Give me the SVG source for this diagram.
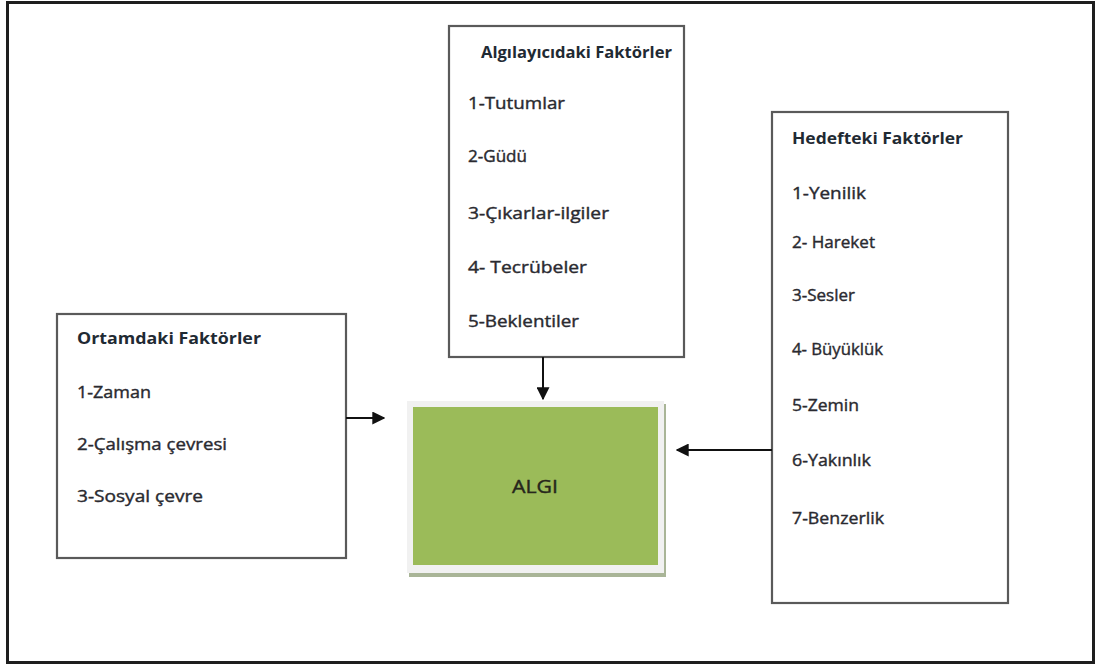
<svg xmlns="http://www.w3.org/2000/svg" width="1097" height="666" viewBox="0 0 1097 666">
  <style>
    .frame { fill: #ffffff; stroke: #1e1e1e; stroke-width: 3; }
    .box { fill: #ffffff; stroke: #5a5a5a; stroke-width: 2.2; }
    .head { font-family: "Open Sans", "Liberation Sans", sans-serif; font-size: 16.5px; font-weight: 700; fill: #1f2a33; }
    .item { font-family: "Open Sans", "Liberation Sans", sans-serif; font-size: 17px; font-weight: 400; fill: #2a2a30; stroke: #2a2a30; stroke-width: 0.4; }
    .link { fill: none; stroke: #111111; stroke-width: 2; }
  </style>
  <defs>
    <marker id="arrowBig" viewBox="0 0 10 10" refX="9" refY="5" markerWidth="13" markerHeight="13" markerUnits="userSpaceOnUse" orient="auto">
      <path d="M0,0 L10,5 L0,10 Z" fill="#111111"/>
    </marker>
  </defs>

  <!-- page frame -->
  <rect class="frame" x="7.5" y="2.5" width="1086" height="660"/>

  <!-- perceiver factors -->
  <g id="algilayici">
    <rect class="box" x="449" y="26" width="235" height="331"/>
    <text class="head" x="481" y="58" textLength="191" lengthAdjust="spacingAndGlyphs">Algılayıcıdaki Faktörler</text>
    <text class="item" x="468" y="109" textLength="97" lengthAdjust="spacingAndGlyphs">1-Tutumlar</text>
    <text class="item" x="468" y="162" textLength="59" lengthAdjust="spacingAndGlyphs">2-Güdü</text>
    <text class="item" x="468" y="219" textLength="141" lengthAdjust="spacingAndGlyphs">3-Çıkarlar-ilgiler</text>
    <text class="item" x="468" y="273" textLength="119" lengthAdjust="spacingAndGlyphs">4- Tecrübeler</text>
    <text class="item" x="468" y="327" textLength="111" lengthAdjust="spacingAndGlyphs">5-Beklentiler</text>
  </g>

  <!-- target factors -->
  <g id="hedef">
    <rect class="box" x="772" y="112" width="236" height="491"/>
    <text class="head" x="792" y="144" textLength="171" lengthAdjust="spacingAndGlyphs">Hedefteki Faktörler</text>
    <text class="item" x="792" y="199" textLength="74" lengthAdjust="spacingAndGlyphs">1-Yenilik</text>
    <text class="item" x="792" y="248" textLength="83" lengthAdjust="spacingAndGlyphs">2- Hareket</text>
    <text class="item" x="792" y="301" textLength="63" lengthAdjust="spacingAndGlyphs">3-Sesler</text>
    <text class="item" x="792" y="355" textLength="91" lengthAdjust="spacingAndGlyphs">4- Büyüklük</text>
    <text class="item" x="792" y="411" textLength="67" lengthAdjust="spacingAndGlyphs">5-Zemin</text>
    <text class="item" x="792" y="466" textLength="79" lengthAdjust="spacingAndGlyphs">6-Yakınlık</text>
    <text class="item" x="792" y="524" textLength="92" lengthAdjust="spacingAndGlyphs">7-Benzerlik</text>
  </g>

  <!-- environment factors -->
  <g id="ortam">
    <rect class="box" x="57" y="314" width="289" height="244"/>
    <text class="head" x="77" y="344" textLength="184" lengthAdjust="spacingAndGlyphs">Ortamdaki Faktörler</text>
    <text class="item" x="77" y="398" textLength="74" lengthAdjust="spacingAndGlyphs">1-Zaman</text>
    <text class="item" x="77" y="450" textLength="150" lengthAdjust="spacingAndGlyphs">2-Çalışma çevresi</text>
    <text class="item" x="77" y="502" textLength="126" lengthAdjust="spacingAndGlyphs">3-Sosyal çevre</text>
  </g>

  <!-- perception (central node) -->
  <g id="algi">
    <rect x="409" y="404" width="257" height="173" fill="#a9b597"/>
    <rect x="407" y="401" width="257" height="172" fill="#f1f1f1"/>
    <rect x="413" y="407" width="245" height="158" fill="#9bbb59"/>
    <text x="535" y="493" text-anchor="middle" font-family="Open Sans, Liberation Sans, sans-serif" font-size="18" fill="#26261c" stroke="#26261c" stroke-width="0.4" textLength="46" lengthAdjust="spacingAndGlyphs">ALGI</text>
  </g>

  <!-- connectors -->
  <g id="connectors">
    <line class="link" x1="543" y1="357" x2="543" y2="399" marker-end="url(#arrowBig)"/>
    <line class="link" x1="346" y1="418" x2="384" y2="418" marker-end="url(#arrowBig)"/>
    <line class="link" x1="772" y1="450" x2="677" y2="450" marker-end="url(#arrowBig)"/>
  </g>
</svg>
